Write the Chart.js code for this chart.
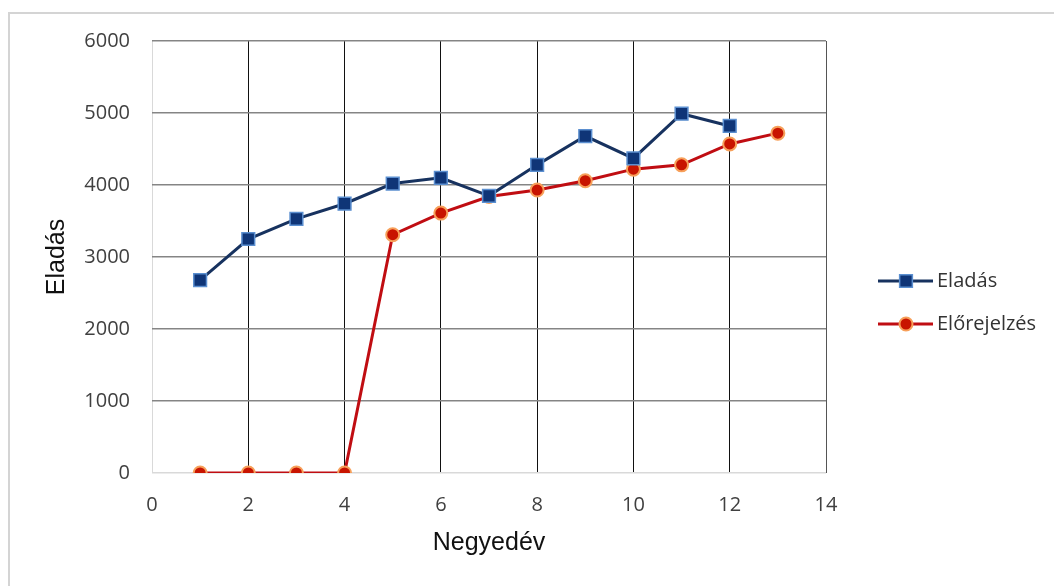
<!DOCTYPE html>
<html lang="hu">
<head>
<meta charset="utf-8">
<title>Eladás és előrejelzés</title>
<script src="https://cdn.jsdelivr.net/npm/chart.js@4/dist/chart.umd.min.js"></script>
<style>
    html, body { margin: 0; padding: 0; background: #fff; }
    #wrap { position: relative; width: 1054px; height: 586px; }
</style>
</head>
<body>
<div id="wrap"><canvas id="chart" width="1054" height="586"></canvas></div>
<script>
/********
 * Data *
 ********/
const quarters = [1, 2, 3, 4, 5, 6, 7, 8, 9, 10, 11, 12, 13];
const salesValues = [2680, 3250, 3530, 3740, 4020, 4100, 3850, 4280, 4680, 4370, 4990, 4820];
const forecastValues = [0, 0, 0, 0, 3310, 3610, 3840, 3930, 4060, 4220, 4280, 4570, 4720];
const seriesNames = ['Eladás', 'Előrejelzés'];
const xTitle = 'Negyedév';
const yTitle = 'Eladás';

const tickFont = { family: '"Open Sans", sans-serif', size: 20 };
const titleFont = { family: '"Liberation Sans", Arial, sans-serif', size: 25 };

function toPoints(values) {
    return values.map((v, i) => ({ x: quarters[i], y: v }));
}

/**
 * Frame lines and a line+marker legend drawn next to the plot.
 */
const framePlugin = {
    id: 'frame',
    beforeDraw(chart) {
        const ctx = chart.ctx;
        ctx.save();
        ctx.strokeStyle = '#d4d4d4';
        ctx.lineWidth = 2;
        ctx.beginPath();
        ctx.moveTo(9, 586);
        ctx.lineTo(9, 13);
        ctx.lineTo(1054, 13);
        ctx.stroke();
        ctx.restore();
    },
    afterDraw(chart) {
        const ctx = chart.ctx;
        const rows = [281, 324];
        ctx.save();
        chart.data.datasets.forEach((ds, i) => {
            const y = rows[i];
            ctx.strokeStyle = ds.borderColor;
            ctx.lineWidth = 3;
            ctx.beginPath();
            ctx.moveTo(878, y);
            ctx.lineTo(933, y);
            ctx.stroke();
            ctx.fillStyle = ds.pointBackgroundColor;
            ctx.strokeStyle = ds.pointBorderColor;
            ctx.lineWidth = ds.pointBorderWidth;
            Chart.helpers.drawPoint(ctx, {
                pointStyle: ds.pointStyle,
                radius: ds.pointRadius,
                rotation: 0,
                borderWidth: ds.pointBorderWidth
            }, 906, y);
            ctx.fillStyle = '#333';
            ctx.font = `${tickFont.size}px ${tickFont.family}`;
            ctx.textAlign = 'left';
            ctx.textBaseline = 'middle';
            ctx.fillText(ds.label, 937, y);
        });
        ctx.restore();
    }
};

const chart = new Chart(document.getElementById('chart').getContext('2d'), {
    type: 'line',
    data: {
        datasets: [
            {
                label: seriesNames[0],
                data: toPoints(salesValues),
                borderColor: '#17325f',
                borderWidth: 3,
                pointStyle: 'rect',
                pointRadius: 9,
                pointBackgroundColor: '#0f3577',
                pointBorderColor: '#5b8fd0',
                pointBorderWidth: 1.5,
                order: 1
            },
            {
                label: seriesNames[1],
                data: toPoints(forecastValues),
                borderColor: '#c00d12',
                borderWidth: 3,
                pointStyle: 'circle',
                pointRadius: 6.5,
                pointBackgroundColor: '#c81400',
                pointBorderColor: '#f7a05a',
                pointBorderWidth: 2,
                order: 2
            }
        ]
    },
    options: {
        responsive: false,
        animation: false,
        layout: { padding: { left: 0, top: 41, right: 228, bottom: 0 } },
        elements: { line: { tension: 0 } },
        plugins: {
            legend: { display: false },
            tooltip: { enabled: false }
        },
        scales: {
            x: {
                type: 'linear',
                min: 0,
                max: 14,
                border: { display: false },
                grid: {
                    drawTicks: false,
                    color: (c) => c.tick && c.tick.value === 0 ? '#d9d9d9' : (c.tick && c.tick.value === 14 ? '#555' : '#111'),
                    lineWidth: 1
                },
                ticks: { stepSize: 2, padding: 20, color: '#404040', font: tickFont },
                title: {
                    display: true,
                    text: xTitle,
                    color: '#111',
                    font: titleFont,
                    padding: { top: 0, bottom: 28 }
                },
                afterFit(scale) { scale.height = 113; }
            },
            y: {
                min: 0,
                max: 6000,
                border: { display: false },
                grid: {
                    drawTicks: false,
                    color: (c) => c.tick && c.tick.value === 0 ? '#d9d9d9' : '#858585',
                    lineWidth: 1.6
                },
                ticks: {
                    stepSize: 1000,
                    padding: 22,
                    color: '#404040',
                    font: tickFont,
                    callback: (value) => String(value)
                },
                title: {
                    display: true,
                    text: yTitle,
                    color: '#111',
                    font: titleFont,
                    padding: { top: 42, bottom: 0 }
                },
                afterFit(scale) { scale.width = 152; }
            }
        }
    },
    plugins: [framePlugin]
});
</script>
</body>
</html>
